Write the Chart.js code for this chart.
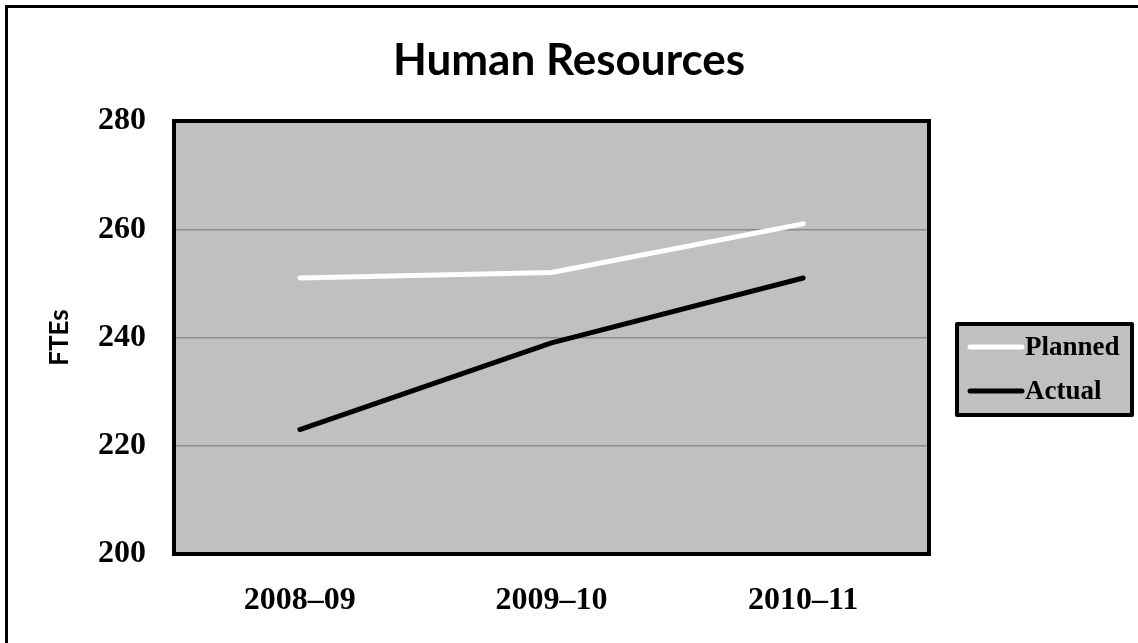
<!DOCTYPE html>
<html>
<head>
<meta charset="utf-8">
<script src="https://cdn.jsdelivr.net/npm/chart.js@4/dist/chart.umd.min.js"></script>
<style>
  html, body { margin: 0; padding: 0; background: #fff; }
  canvas { display: block; }
</style>
</head>
<body>
<canvas id="chart" width="1138" height="643"></canvas>
<script>
const years = ['2008–09', '2009–10', '2010–11'];
const planned = [251, 252, 261];
const actual = [223, 239, 251];
const yTicks = [200, 220, 240, 260, 280];

const chartTitle = 'Human Resources';
const PLOT_BG = '#c0c0c0';
const serif = '"Liberation Serif", "Times New Roman", serif';
const sans = 'Lato, "Open Sans", sans-serif';

// Page frame, grey plot background, plot border, title and the boxed legend
const decor = {
  id: 'decor',
  beforeDraw(chart) {
    const { ctx, chartArea: a } = chart;
    ctx.save();
    ctx.strokeStyle = '#000';
    ctx.lineWidth = 3;
    ctx.beginPath();
    ctx.moveTo(6.5, chart.height);
    ctx.lineTo(6.5, 6.5);
    ctx.lineTo(chart.width, 6.5);
    ctx.stroke();

    ctx.fillStyle = PLOT_BG;
    ctx.fillRect(a.left, a.top, a.right - a.left, a.bottom - a.top);
    ctx.restore();
  },
  afterDraw(chart) {
    const { ctx, chartArea: a } = chart;
    ctx.save();
    ctx.strokeStyle = '#000';
    ctx.lineWidth = 4;
    ctx.strokeRect(a.left, a.top, a.right - a.left, a.bottom - a.top);

    // title is centred on the whole page, not on the plot
    ctx.fillStyle = '#000';
    ctx.font = 'bold 44px ' + sans;
    ctx.textAlign = 'center';
    ctx.textBaseline = 'alphabetic';
    ctx.fillText(chartTitle, chart.width / 2, 75);

    // legend
    const box = { x: 957, y: 324, w: 175, h: 91 };
    ctx.fillStyle = PLOT_BG;
    ctx.fillRect(box.x, box.y, box.w, box.h);
    ctx.lineJoin = 'round';
    ctx.lineWidth = 4;
    ctx.strokeRect(box.x, box.y, box.w, box.h);

    ctx.font = 'bold 27px ' + serif;
    ctx.textAlign = 'left';
    ctx.textBaseline = 'middle';
    chart.data.datasets.forEach((ds, i) => {
      const y = 347 + i * 44;
      ctx.strokeStyle = ds.borderColor;
      ctx.lineWidth = 5;
      ctx.lineCap = 'round';
      ctx.beginPath();
      ctx.moveTo(970, y);
      ctx.lineTo(1022, y);
      ctx.stroke();
      ctx.fillStyle = '#000';
      ctx.fillText(ds.label, 1025, y + 1);
    });
    ctx.restore();
  }
};

new Chart(document.getElementById('chart'), {
  type: 'line',
  data: {
    labels: years,
    datasets: [
      { label: 'Planned', data: planned, borderColor: '#ffffff' },
      { label: 'Actual', data: actual, borderColor: '#000000' }
    ]
  },
  options: {
    responsive: false,
    animation: false,
    layout: { padding: { top: 121, right: 209 } },
    elements: {
      line: { borderWidth: 5, tension: 0, borderCapStyle: 'round', borderJoinStyle: 'round' },
      point: { radius: 0, hoverRadius: 0 }
    },
    plugins: {
      legend: { display: false },
      tooltip: { enabled: false },
      title: { display: false }
    },
    scales: {
      x: {
        offset: true,
        grid: { display: false, drawTicks: false },
        border: { display: false },
        ticks: {
          color: '#000',
          padding: 28,
          font: { family: serif, size: 32, weight: 'bold' }
        },
        afterFit(scale) { scale.height = 89; }
      },
      y: {
        min: yTicks[0],
        max: yTicks[yTicks.length - 1],
        grid: { color: '#8c8c8c', lineWidth: 1.5, drawTicks: false },
        border: { display: false },
        ticks: {
          stepSize: yTicks[1] - yTicks[0],
          color: '#000',
          padding: 28,
          font: { family: serif, size: 32, weight: 'bold' }
        },
        title: {
          display: true,
          text: 'FTEs',
          color: '#000',
          font: { family: sans, size: 26, weight: 'bold' },
          padding: { top: 44 }
        },
        afterFit(scale) { scale.width = 174; }
      }
    }
  },
  plugins: [decor]
});
</script>
</body>
</html>
